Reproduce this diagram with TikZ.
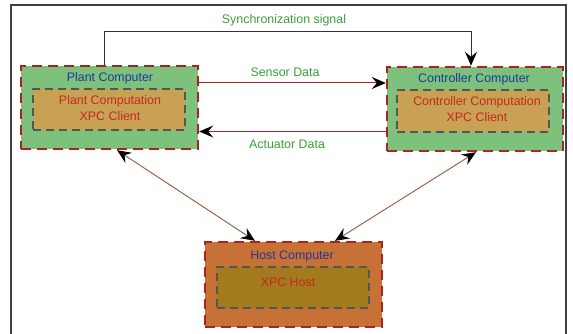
\documentclass[tikz,border=0pt]{standalone}
\usepackage{fontspec}
\setmainfont{Liberation Sans}
\usetikzlibrary{arrows.meta,calc}
\definecolor{boxgreen}{HTML}{7DC17D}
\definecolor{boxorange}{HTML}{C9A154}
\definecolor{hostfill}{HTML}{C87137}
\definecolor{hostin}{HTML}{A37A1E}
\definecolor{dashred}{HTML}{A82424}
\definecolor{dashgray}{HTML}{4F5A4F}
\definecolor{titleblue}{HTML}{23389A}
\definecolor{textred}{HTML}{C42A1C}
\definecolor{labgreen}{HTML}{3A9E3A}
\definecolor{linkred}{HTML}{A02828}
\definecolor{linkbrown}{HTML}{9A6548}
\begin{document}
\begin{tikzpicture}[x=1pt,y=-1pt,
  font=\fontsize{12.4}{14}\selectfont,
  outerbox/.style={draw=dashred,line width=2.4pt,dash pattern=on 10pt off 6pt,rectangle,inner sep=0pt},
  innerbox/.style={draw=dashgray,line width=1.8pt,dash pattern=on 8pt off 5pt,rectangle,inner sep=0pt},
  ttl/.style={text=titleblue,inner sep=0pt,anchor=center},
  itxt/.style={text=textred,inner sep=0pt,anchor=center,align=center},
  lab/.style={text=labgreen,inner sep=0pt,anchor=center},
  tip/.style={-{Stealth[black,length=14pt,width=12pt,inset=5pt]}},
  dtip/.style={{Stealth[black,length=14pt,width=12pt,inset=5pt]}-{Stealth[black,length=14pt,width=12pt,inset=5pt]}}
]
\useasboundingbox (0,0) rectangle (573,334);
% outer frame
\draw[line width=1.6pt,draw=black!75] (11,336) -- (11,5) -- (566,5) -- (566,336);

% boxes
\node[outerbox,fill=boxgreen,minimum width=177pt,minimum height=83pt] (plant) at (109.5,107.5) {};
\node[innerbox,fill=boxorange,minimum width=152pt,minimum height=41pt] (plantin) at (109,109.5) {};
\node[outerbox,fill=boxgreen,minimum width=176pt,minimum height=84pt] (ctrl) at (475,109) {};
\node[innerbox,fill=boxorange,minimum width=152pt,minimum height=42pt] (ctrlin) at (473,111) {};
\node[outerbox,fill=hostfill,minimum width=177pt,minimum height=85pt] (host) at (293.5,284.5) {};
\node[innerbox,fill=hostin,minimum width=152pt,minimum height=41pt] (hostin) at (293,287.5) {};

% texts
\node[ttl] (plantt) at (110,78) {Plant Computer};
\node[itxt] (plantc) at (110,101) {Plant Computation};
\node[itxt] (plantx) at (110,116) {XPC Client};
\node[ttl] (ctrlt) at (474,79) {Controller Computer};
\node[itxt] (ctrlc) at (477,102) {Controller Computation};
\node[itxt] (ctrlx) at (477,117) {XPC Client};
\node[ttl] (hostt) at (292,256) {Host Computer};
\node[itxt] (hostx) at (288,282) {XPC Host};

% labels
\node[lab] (syncl) at (284,20) {Synchronization signal};
\node[lab] (sensl) at (285,72) {Sensor Data};
\node[lab] (actl) at (287,144) {Actuator Data};

% connectors
\coordinate (s1) at (104,32);
\coordinate (s2) at (471,32);
\draw[tip,line width=1pt,draw=black!80] (plant.north -| s1) -- (s1) -- (s2) -- (ctrl.north -| s2);
\coordinate (sy) at (0,83);
\coordinate (ay) at (0,131.5);
\draw[tip,line width=1pt,draw=linkred] (plant.east |- sy) -- (ctrl.west |- sy);
\draw[tip,line width=1pt,draw=linkred] (ctrl.west |- ay) -- (plant.east |- ay);
\coordinate (p1) at (117,151);
\coordinate (h1) at (255,242);
\coordinate (c1) at (476,152);
\coordinate (h2) at (335,242);
\draw[dtip,line width=1pt,draw=linkbrown] (plant.south -| p1) -- (host.north -| h1);
\draw[dtip,line width=1pt,draw=linkbrown] (ctrl.south -| c1) -- (host.north -| h2);
\end{tikzpicture}
\end{document}
